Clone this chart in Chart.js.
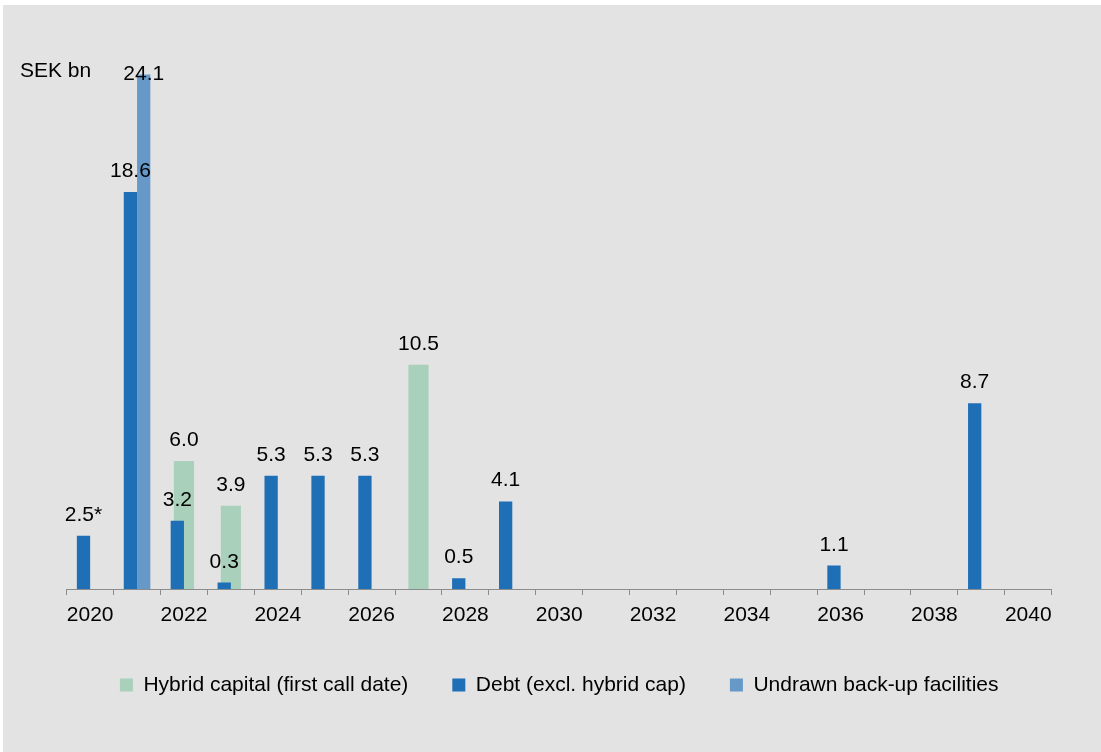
<!DOCTYPE html>
<html>
<head>
<meta charset="utf-8">
<script src="https://cdn.jsdelivr.net/npm/chart.js@4.4.1/dist/chart.umd.min.js"></script>
<style>
html,body{margin:0;padding:0;background:#ffffff;}
#wrap{position:absolute;left:3px;top:5px;width:1098px;height:747px;background:#e3e3e3;}
</style>
</head>
<body>
<div id="wrap"><canvas id="c"></canvas></div>
<script>
const categories = ['2020','2021','2022','2023','2024','2025','2026','2027','2028','2029','2030',
  '2031','2032','2033','2034','2035','2036','2037','2038','2039','2040'];
const tickLabels = ['2020','','2022','','2024','','2026','','2028','','2030',
  '','2032','','2034','','2036','','2038','','2040'];
const hybridCapital = [null,null,6.0,3.9,null,null,null,10.5,null,null,null,
  null,null,null,null,null,null,null,null,null,null];
const debt = [2.5,18.6,3.2,0.3,5.3,5.3,5.3,null,0.5,4.1,null,
  null,null,null,null,null,1.1,null,null,8.7,null];
const undrawnFacilities = [null,24.1,null,null,null,null,null,null,null,null,null,
  null,null,null,null,null,null,null,null,null,null];
const debtNotes = ['*','','','','','','','','','','','','','','','','','','','',''];
const seriesNames = ['Hybrid capital (first call date)','Debt (excl. hybrid cap)','Undrawn back-up facilities'];
const unitLabel = 'SEK bn';

const FONT = '"Liberation Sans", Arial, sans-serif';
Chart.defaults.font.family = FONT;
Chart.defaults.font.size = 21;
Chart.defaults.color = '#000000';

const valueLabels = {
  id: 'valueLabels',
  afterDatasetsDraw(chart) {
    const ctx = chart.ctx;
    ctx.save();
    ctx.font = '21px ' + FONT;
    ctx.fillStyle = '#000000';
    ctx.textAlign = 'center';
    ctx.textBaseline = 'alphabetic';
    const minY = chart.chartArea.top + 25;
    chart.data.datasets.forEach((ds, i) => {
      const meta = chart.getDatasetMeta(i);
      meta.data.forEach((bar, j) => {
        const v = ds.data[j];
        if (v === null || v === undefined) return;
        const txt = v.toFixed(1) + ((ds.notes && ds.notes[j]) || '');
        const y = Math.max(bar.y - 15, minY);
        ctx.fillText(txt, bar.x, y);
      });
    });
    ctx.restore();
  }
};

const unitTitle = {
  id: 'unitTitle',
  afterDraw(chart) {
    const ctx = chart.ctx;
    ctx.save();
    ctx.font = '21px ' + FONT;
    ctx.fillStyle = '#000000';
    ctx.textAlign = 'left';
    ctx.textBaseline = 'alphabetic';
    ctx.fillText(unitLabel, 17, 72);
    ctx.restore();
  }
};

new Chart(document.getElementById('c'), {
  type: 'bar',
  data: {
    labels: categories,
    datasets: [
      { label: seriesNames[0], data: hybridCapital, backgroundColor: '#a9d0bb', borderWidth: 0,
        grouped: false, order: 3, barPercentage: 1, categoryPercentage: 0.43, stack: 'h' },
      { label: seriesNames[1], data: debt, notes: debtNotes, backgroundColor: '#1f6fb6', borderWidth: 0,
        order: 1, barPercentage: 1, categoryPercentage: 0.567, stack: 'd' },
      { label: seriesNames[2], data: undrawnFacilities, backgroundColor: '#6699c8', borderWidth: 0,
        order: 2, barPercentage: 1, categoryPercentage: 0.567, stack: 'u' }
    ]
  },
  options: {
    responsive: true,
    maintainAspectRatio: false,
    animation: false,
    layout: { padding: { left: 63.7, right: 49.3, top: 50.25, bottom: 46.5 } },
    plugins: {
      legend: {
        position: 'bottom',
        labels: {
          boxWidth: 13, boxHeight: 13, padding: 44,
          font: { size: 21 }, color: '#000000',
          sort: (a, b) => a.datasetIndex - b.datasetIndex
        }
      },
      tooltip: { enabled: false }
    },
    scales: {
      x: {
        type: 'category',
        offset: true,
        grid: { offset: true, drawOnChartArea: false, drawTicks: true, tickLength: 6, color: '#8c8c8c' },
        border: { display: true, color: '#8c8c8c', width: 1 },
        ticks: {
          autoSkip: false, maxRotation: 0, minRotation: 0, padding: 8,
          font: { size: 21 }, color: '#000000',
          callback: (v, i) => tickLabels[i]
        },
        afterFit: (s) => { s.height = 41.5; }
      },
      y: { display: false, min: 0, max: 25 }
    }
  },
  plugins: [valueLabels, unitTitle]
});
</script>
</body>
</html>
